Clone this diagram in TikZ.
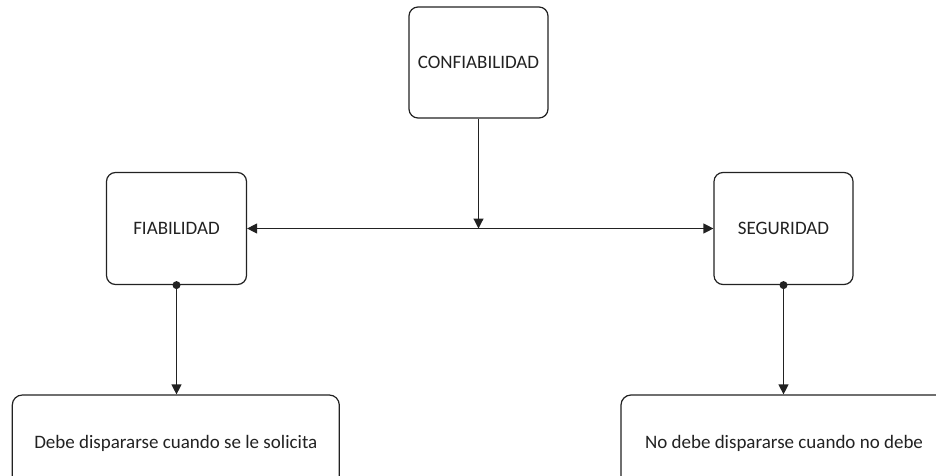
\documentclass[tikz,border=0pt]{standalone}
\usepackage{fontspec}
\setmainfont{Carlito}
\usetikzlibrary{arrows.meta}
\definecolor{ink}{HTML}{222222}
\tikzset{
  box/.style={draw=ink, line width=1.2pt, rounded corners=9pt, fill=white,
    text=ink, font=\fontsize{19}{22}\selectfont, inner sep=0pt},
  link/.style={draw=ink, line width=1.2pt},
  tip/.style={-{Triangle[length=10pt,width=10pt]}},
  dot/.style={circle, fill=ink, inner sep=0pt, minimum size=8pt}
}
\begin{document}
\begin{tikzpicture}[x=1pt, y=-1pt]
  \useasboundingbox (0,0) rectangle (936,476);
  \clip (0,0) rectangle (936,476);

  % level 1
  \node[box, minimum width=139pt, minimum height=111pt] (conf) at (478.5,62.5) {CONFIABILIDAD};

  % level 2
  \node[box, minimum width=140pt, minimum height=112pt] (fia) at (176.5,228.5) {FIABILIDAD};
  \node[box, minimum width=139pt, minimum height=112pt] (seg) at (783.5,228.5) {SEGURIDAD};

  % level 3 (runs past the lower and right edges)
  \node[box, rounded corners=10pt, minimum width=327pt, minimum height=96pt] (lb) at (175.8,443) {Debe dispararse cuando se le solicita};
  \node[box, rounded corners=10pt, minimum width=326pt, minimum height=96pt] (rb) at (784,443) {No debe dispararse cuando no debe};

  % junction on the horizontal connector
  \coordinate (j) at (conf.south |- fia.east);

  \draw[link, tip] (conf.south) -- (j);
  \draw[link, {Triangle[length=10pt,width=10pt]}-{Triangle[length=10pt,width=10pt]}] (fia.east) -- (seg.west);

  \node[dot] (fd) at (fia.south) {};
  \node[dot] (sd) at (seg.south) {};
  \draw[link, tip] (fd.center) -- (fd.center |- lb.north);
  \draw[link, tip] (sd.center) -- (sd.center |- rb.north);
\end{tikzpicture}
\end{document}
